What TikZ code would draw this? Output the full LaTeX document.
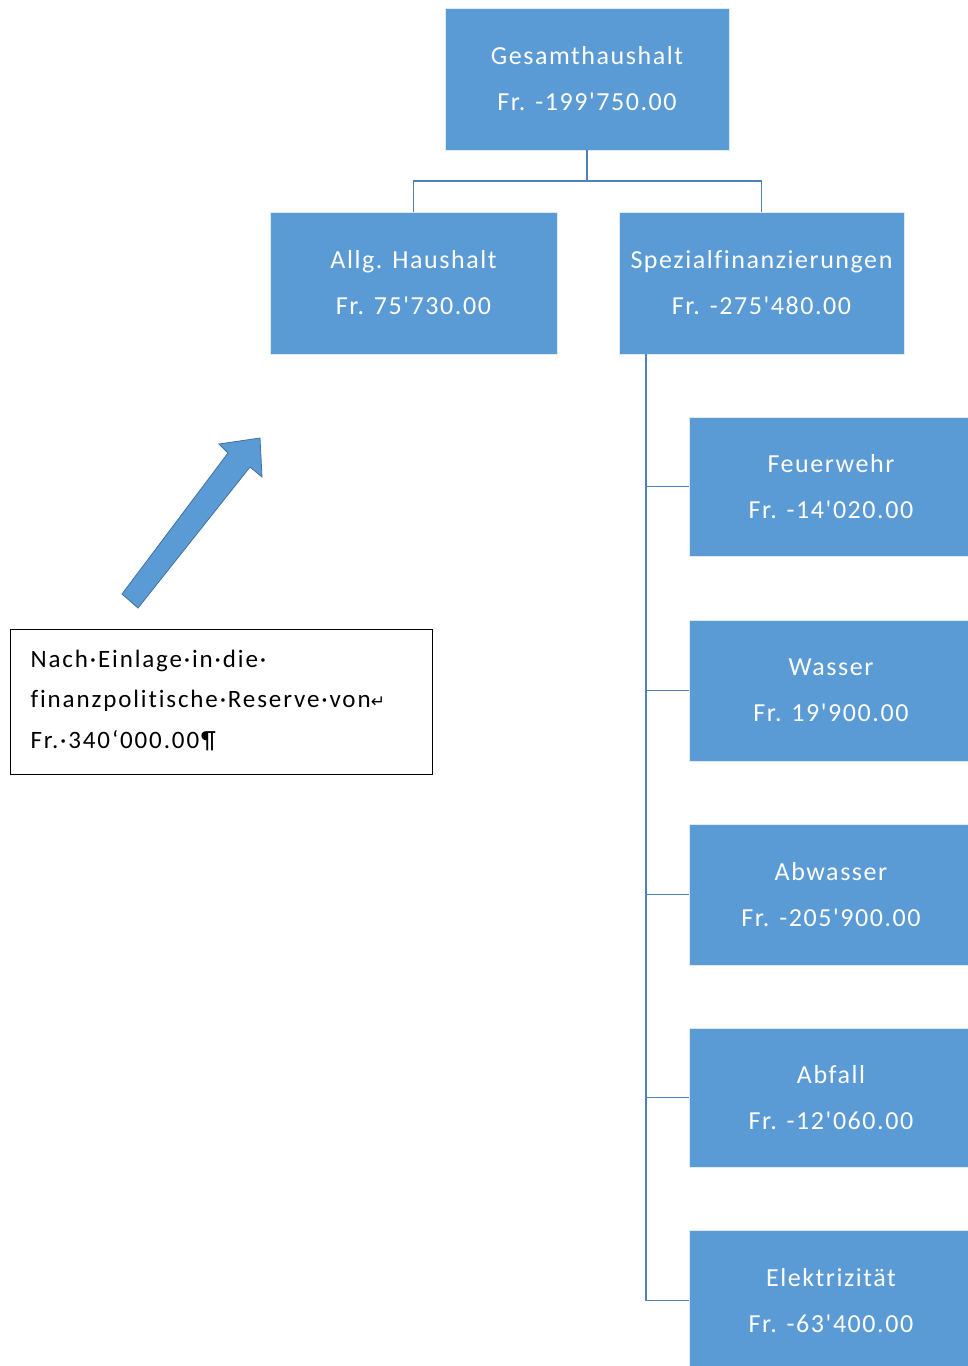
\documentclass[tikz,border=0pt]{standalone}
\usepackage{fontspec}
\setmainfont{Carlito}
\newfontfamily\boxfont[Ligatures={TeXOff,NoCommon},LetterSpace=6]{Carlito}
\newfontfamily\notefont[Ligatures={TeXOff,NoCommon},LetterSpace=7.5]{Carlito}
\newfontfamily\symfont{DejaVu Sans}
\definecolor{boxblue}{HTML}{5B9BD5}
\definecolor{lineblue}{HTML}{4F81BD}
\definecolor{arrowedge}{HTML}{41719C}
\begin{document}
\begin{tikzpicture}[x=1pt,y=-1pt,
  orgbox/.style={rectangle,fill=boxblue,draw=white!80!boxblue,line width=0.6pt,
    text=white,align=center,inner sep=0pt,
    font=\boxfont\fontsize{26}{46}\selectfont},
  conn/.style={draw=lineblue,line width=1.8pt}]
\clip (0,0) rectangle (968,1366);
\fill[white] (0,0) rectangle (968,1366);
% top levels
\node[orgbox,minimum width=284,minimum height=142] (g) at (587,79) {Gesamthaushalt\\Fr. -199'750.00};
\node[orgbox,minimum width=287,minimum height=142] (a) at (413.5,283) {Allg. Haushalt\\Fr. 75'730.00};
\node[orgbox,minimum width=285,minimum height=142] (s) at (761.5,283) {Spezialfinanzierungen\\Fr. -275'480.00};
% sub boxes
\node[orgbox,minimum width=284,minimum height=139] (f) at (831,486.5) {Feuerwehr\\Fr. -14'020.00};
\node[orgbox,minimum width=284,minimum height=141] (w) at (831,690.5) {Wasser\\Fr. 19'900.00};
\node[orgbox,minimum width=284,minimum height=141] (ab) at (831,894.5) {Abwasser\\Fr. -205'900.00};
\node[orgbox,minimum width=284,minimum height=139] (af) at (831,1097.5) {Abfall\\Fr. -12'060.00};
\node[orgbox,minimum width=284,minimum height=141] (e) at (831,1300.5) {Elektrizität\\Fr. -63'400.00};
% connectors
\coordinate (mid) at (587,181);
\draw[conn] (g.south) -- (mid);
\draw[conn] (mid) -| (a.north);
\draw[conn] (mid) -| (s.north);
\coordinate (sp) at (646,354);
\draw[conn] (sp) |- (f.west);
\draw[conn] (sp) |- (w.west);
\draw[conn] (sp) |- (ab.west);
\draw[conn] (sp) |- (af.west);
\draw[conn] (sp) |- (e.west);
% block arrow
\filldraw[fill=boxblue,draw=arrowedge,line width=0.8pt,line join=miter]
  (122,594) -- (228,453) -- (219,444) -- (260,438) -- (262,477) -- (250,467) -- (138,608) -- cycle;
% note
\node[draw=black,line width=1.2pt,anchor=north west,minimum width=422,minimum height=145,
  inner xsep=20pt,inner ysep=0pt,text width=382,align=left,
  font=\notefont\fontsize{25}{40.5}\selectfont] (note) at (10,629)
  {Nach·Einlage·in·die·\\finanzpolitische·Reserve·von{\symfont\fontsize{17}{40.5}\selectfont↵}\\Fr.·340‘000.00¶\\[-34pt]\mbox{}};
\end{tikzpicture}
\end{document}
